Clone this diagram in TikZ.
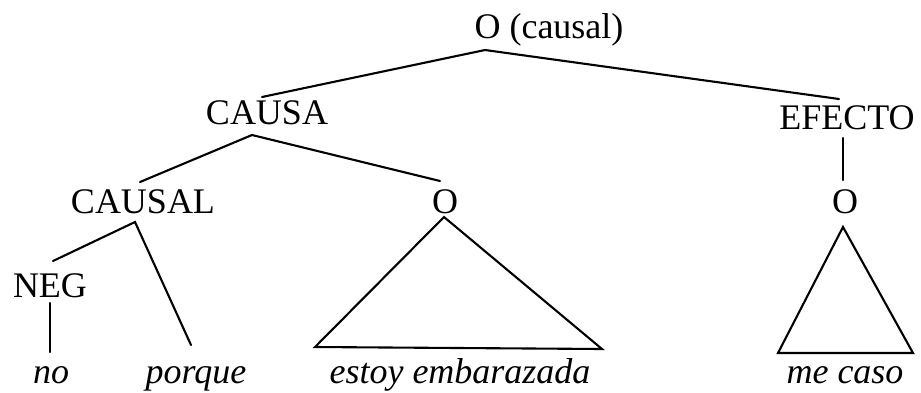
\documentclass[tikz,border=0pt]{standalone}
\usepackage{fontspec}
\setmainfont{Liberation Serif}
\begin{document}
\begin{tikzpicture}[x=1pt,y=-1pt,
  lbl/.style={anchor=base, inner sep=0pt, font=\fontsize{36}{40}\selectfont},
  wd/.style={anchor=base, inner sep=0pt, font=\fontsize{36}{40}\selectfont\itshape},
  edge/.style={line width=2.1pt, line cap=round, line join=miter}]
\useasboundingbox (0,0) rectangle (921,392);
% labels
\node[lbl] (root) at (549,38) {O (causal)};
\node[lbl] (causa) at (267,124) {CAUSA};
\node[lbl] (efecto) at (847,129) {EFECTO};
\node[lbl] (causal) at (143,213) {CAUSAL};
\node[lbl] (omid) at (445,213) {O};
\node[lbl] (oright) at (845,213) {O};
\node[lbl] (neg) at (50,297) {NEG};
\node[wd] (no) at (51,383) {no};
\node[wd] (porque) at (196,383) {porque};
\node[wd] (estoy) at (460,383) {estoy embarazada};
\node[wd] (mecaso) at (845,383) {me caso};
% connector end points
\coordinate (rootB) at (485,50);
\coordinate (causaT) at (262,97);
\coordinate (efectoT) at (839,99);
\coordinate (causaB) at (252,135);
\coordinate (causalT) at (140,182);
\coordinate (omidT) at (440,181);
\coordinate (causalB) at (135,222);
\coordinate (negT) at (53,261);
\coordinate (porqueT) at (191,345);
\coordinate (negB) at (50,303);
\coordinate (noT) at (50,352);
\coordinate (efectoB) at (843,138);
\coordinate (orightT) at (843,180);
\coordinate (omidB) at (444,217);
\coordinate (estoyL) at (315,347);
\coordinate (estoyR) at (602,349);
\coordinate (orightB) at (843,227);
\coordinate (mecasoL) at (778,353);
\coordinate (mecasoR) at (913,353);
% connectors
\draw[edge] (causaT) -- (rootB) -- (efectoT);
\draw[edge] (causalT) -- (causaB) -- (omidT);
\draw[edge] (negT) -- (causalB) -- (porqueT);
\draw[edge] (negB) -- (noT);
\draw[edge] (efectoB) -- (orightT);
\draw[edge] (omidB) -- (estoyR) -- (estoyL) -- cycle;
\draw[edge] (orightB) -- (mecasoR) -- (mecasoL) -- cycle;
\end{tikzpicture}
\end{document}
